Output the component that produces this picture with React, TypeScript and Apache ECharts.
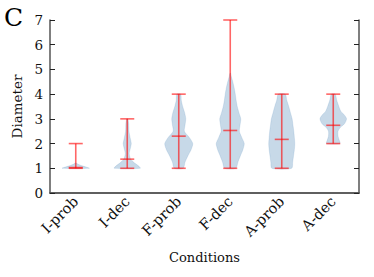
import React, { useEffect, useRef } from "react";
import * as echarts from "echarts";

const categories = ["I-prob", "I-dec", "F-prob", "F-dec", "A-prob", "A-dec"];
const mins = [1, 1, 1, 1, 1, 2];
const maxs = [2, 3, 4, 7, 4, 4];
const centers = [1.03, 1.37, 2.3, 2.53, 2.17, 2.74];
const yTicks = [0, 1, 2, 3, 4, 5, 6, 7];

// kernel density profiles: [value, relative half-width]
const profIProb = [[1.0, 0.97], [1.05, 0.75], [1.1, 0.45], [1.15, 0.22], [1.2, 0.06], [1.22, 0]];
const profIDec = [[1, 0.93], [1.1, 0.8], [1.2, 0.55], [1.3, 0.35], [1.4, 0.22], [1.6, 0.14], [1.8, 0.22], [2.0, 0.29], [2.2, 0.22], [2.5, 0.12], [2.8, 0.1], [3.0, 0.04]];
const profFProb = [[1, 0.32], [1.25, 0.45], [1.5, 0.65], [1.75, 0.88], [2, 1.0], [2.25, 0.75], [2.5, 0.4], [2.75, 0.45], [3, 0.5], [3.25, 0.42], [3.5, 0.28], [3.75, 0.18], [4, 0.14]];
const profFDec = [[1, 0.4], [1.25, 0.55], [1.5, 0.72], [1.75, 0.9], [2, 1.0], [2.25, 0.82], [2.5, 0.65], [2.75, 0.7], [3, 0.75], [3.25, 0.62], [3.5, 0.5], [3.75, 0.42], [4, 0.36], [4.25, 0.28], [4.5, 0.18], [4.7, 0.08], [4.85, 0.02]];
const profAProb = [[1, 0.71], [1.25, 0.78], [1.5, 0.84], [1.75, 0.9], [2, 0.93], [2.25, 0.9], [2.5, 0.86], [2.75, 0.8], [3, 0.74], [3.25, 0.62], [3.5, 0.5], [3.75, 0.36], [4, 0.25]];
const profADec = [[2, 0.48], [2.15, 0.42], [2.3, 0.34], [2.5, 0.34], [2.65, 0.5], [2.8, 0.8], [3, 0.95], [3.15, 0.8], [3.3, 0.55], [3.5, 0.4], [3.75, 0.25], [4, 0.14]];
const profiles = [profIProb, profIDec, profFProb, profFDec, profAProb, profADec];

const FONT = "DejaVu Serif";
const AXIS_COLOR = "#555";
const RED = "rgba(255,0,0,0.6)";

export default function App() {
  const ref = useRef<HTMLDivElement>(null);
  useEffect(() => {
    if (!ref.current) return;
    const chart = echarts.init(ref.current, undefined, { renderer: "svg" });
    const violinData = categories.map((_, i) => [i, centers[i]]);
    chart.setOption({
      animation: false,
      backgroundColor: "#fff",
      graphic: [
        {
          type: "text",
          left: 4,
          top: 5,
          style: { text: "C", font: `25px '${FONT}'`, fill: "#000" },
        },
      ],
      grid: { left: 50, right: 15, top: 20, bottom: 84 },
      xAxis: [
        {
          type: "category",
          data: categories,
          boundaryGap: true,
          name: "Conditions",
          nameLocation: "middle",
          nameGap: 58,
          nameTextStyle: { fontFamily: FONT, fontSize: 13, color: "#111" },
          axisLine: { lineStyle: { color: AXIS_COLOR, width: 1.5 } },
          axisTick: { inside: true, alignWithLabel: true, length: 5, lineStyle: { color: "#222" } },
          axisLabel: { rotate: 45, fontFamily: FONT, fontSize: 14.5, color: "#111", margin: 6 },
          splitLine: { show: false },
        },
        {
          type: "category",
          data: categories,
          position: "top",
          boundaryGap: true,
          axisLine: { lineStyle: { color: AXIS_COLOR, width: 1.5 } },
          axisTick: { inside: true, alignWithLabel: true, length: 5, lineStyle: { color: "#222" } },
          axisLabel: { show: false },
        },
      ],
      yAxis: [
        {
          type: "value",
          min: 0,
          max: 7,
          interval: 1,
          name: "Diameter",
          nameLocation: "middle",
          nameGap: 25,
          nameTextStyle: { fontFamily: FONT, fontSize: 13.5, color: "#111" },
          axisLine: { show: true, lineStyle: { color: AXIS_COLOR, width: 1.5 } },
          axisTick: { show: true, inside: true, length: 5, lineStyle: { color: "#222" } },
          axisLabel: {
            fontFamily: FONT,
            fontSize: 13.5,
            color: "#111",
            margin: 7,
            formatter: (v: number) => (yTicks.includes(v) ? String(v) : ""),
          },
          splitLine: { show: false },
        },
        {
          type: "value",
          min: 0,
          max: 7,
          interval: 1,
          position: "right",
          axisLine: { show: true, lineStyle: { color: AXIS_COLOR, width: 1.5 } },
          axisTick: { show: true, inside: true, length: 5, lineStyle: { color: "#222" } },
          axisLabel: { show: false },
          splitLine: { show: false },
        },
      ],
      series: [
        {
          type: "custom",
          xAxisIndex: 0,
          yAxisIndex: 0,
          encode: { x: 0, y: 1 },
          data: violinData,
          renderItem: (params: any, api: any) => {
            const i = params.dataIndex;
            const bw = api.size([1, 0])[0];
            const cx = api.coord([i, 0])[0];
            const maxHalf = bw * 0.272;
            const capHalf = bw * 0.136;
            const prof = profiles[i];
            const right = prof.map(([v, w]) => [cx + w * maxHalf, api.coord([i, v])[1]]);
            const left = prof
              .slice()
              .reverse()
              .map(([v, w]) => [cx - w * maxHalf, api.coord([i, v])[1]]);
            const yMin = api.coord([i, mins[i]])[1];
            const yMax = api.coord([i, maxs[i]])[1];
            const yMed = api.coord([i, centers[i]])[1];
            const lineStyle = { stroke: RED, lineWidth: 1.6 };
            return {
              type: "group",
              children: [
                {
                  type: "polygon",
                  shape: { points: right.concat(left), smooth: 0.25 },
                  style: { fill: "rgba(70,130,180,0.3)", stroke: "rgba(70,130,180,0.15)", lineWidth: 1 },
                },
                { type: "line", shape: { x1: cx, y1: yMin, x2: cx, y2: yMax }, style: lineStyle },
                { type: "line", shape: { x1: cx - capHalf, y1: yMin, x2: cx + capHalf, y2: yMin }, style: lineStyle },
                { type: "line", shape: { x1: cx - capHalf, y1: yMax, x2: cx + capHalf, y2: yMax }, style: lineStyle },
                { type: "line", shape: { x1: cx - capHalf, y1: yMed, x2: cx + capHalf, y2: yMed }, style: lineStyle },
              ],
            };
          },
        },
      ],
    });
    return () => chart.dispose();
  }, []);
  return <div ref={ref} style={{ width: 374, height: 277, position: "absolute", left: 0, top: 0 }} />;
}
